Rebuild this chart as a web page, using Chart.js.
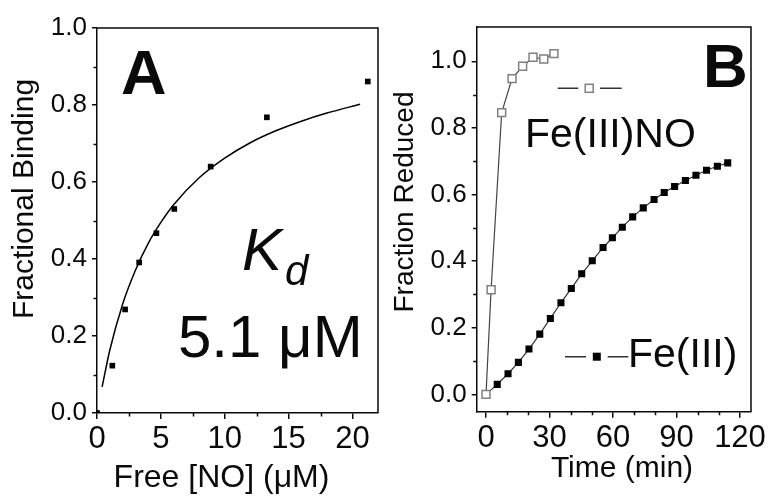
<!DOCTYPE html>
<html><head><meta charset="utf-8">
<script src="https://cdn.jsdelivr.net/npm/chart.js@4"></script>
<style>
html,body{margin:0;padding:0;background:#fff;}
#wrap{position:relative;width:773px;height:497px;overflow:hidden;background:#fff;}
#ca{position:absolute;left:0;top:0;}
#cb{position:absolute;left:385px;top:0;}
</style></head><body>
<div id="wrap"><canvas id="ca" width="385" height="497"></canvas><canvas id="cb" width="388" height="497"></canvas></div>
<script>
// ---------- Panel A data ----------
const A_FREE_NO = [0, 1.2, 2.2, 3.3, 4.65, 6.05, 8.9, 13.3, 21.2];
const A_BINDING = [0, 0.123, 0.269, 0.391, 0.467, 0.53, 0.64, 0.768, 0.861];
const A_FIT_X = [0.4, 1, 2, 3, 4, 5, 6, 8, 10, 12, 14, 16, 18, 20.6];
const A_FIT_Y = [0.068, 0.163, 0.282, 0.370, 0.440, 0.495, 0.541, 0.611, 0.662, 0.702, 0.733, 0.758, 0.779, 0.802];
const A_X_TICKS = [0, 5, 10, 15, 20];
const A_X_LABELS = ['0', '5', '10', '15', '20'];
const A_X_MINOR = [2.5, 7.5, 12.5, 17.5];
const A_Y_TICKS = [0, 0.2, 0.4, 0.6, 0.8, 1.0];
const A_Y_LABELS = ['0.0', '0.2', '0.4', '0.6', '0.8', '1.0'];
const A_Y_MINOR = [0.1, 0.3, 0.5, 0.7, 0.9];
const A_X_TITLE = 'Free [NO] (μM)';
const A_Y_TITLE = 'Fractional Binding';

// ---------- Panel B data ----------
const B_NO_TIME = [0, 2.4, 7.4, 12.3, 17.3, 22.2, 27.3, 32.1];
const B_NO_FRAC = [0, 0.314, 0.846, 0.948, 0.985, 1.012, 1.007, 1.023];
const B_FE_TIME = [0, 5.3, 10.4, 15.3, 20.3, 25.4, 30.4, 35.4, 40.3, 45.2, 50.2, 55.3, 59.7, 64.4, 69.3, 74.3, 79.4, 84.2, 89.1, 94.2, 99.2, 104.2, 109.3, 114.2];
const B_FE_FRAC = [0, 0.03, 0.062, 0.096, 0.136, 0.181, 0.228, 0.275, 0.318, 0.362, 0.401, 0.441, 0.47, 0.502, 0.533, 0.56, 0.585, 0.606, 0.624, 0.642, 0.658, 0.673, 0.685, 0.695];
const B_X_TICKS = [0, 30, 60, 90, 120];
const B_X_LABELS = ['0', '30', '60', '90', '120'];
const B_X_MINOR = [10, 20, 40, 50, 70, 80, 100, 110];
const B_Y_TICKS = [0, 0.2, 0.4, 0.6, 0.8, 1.0];
const B_Y_LABELS = ['0.0', '0.2', '0.4', '0.6', '0.8', '1.0'];
const B_Y_MINOR = [0.1, 0.3, 0.5, 0.7, 0.9];
const B_X_TITLE = 'Time (min)';
const B_Y_TITLE = 'Fraction Reduced';
const B_SERIES = ['Fe(III)NO', 'Fe(III)'];

const FONT = "'Liberation Sans', Arial, Helvetica, sans-serif";
const INK = '#0a0a0a';

function fixTicks(values) { return s => { s.ticks = values.map(v => ({ value: v })); }; }
function pts(xs, ys) { return xs.map((x, i) => ({ x, y: ys[i] })); }

function axis(opts) {
  return Object.assign({
    type: 'linear',
    grid: { drawOnChartArea: false, drawTicks: true, tickLength: 5, color: INK, lineWidth: 1.5 },
    border: { display: true, color: INK, width: 1.5 },
  }, opts);
}

function frameAndMinor(chart, xMinor, yMinor) {
  const { ctx, chartArea: a, scales: { x, y } } = chart;
  ctx.save();
  ctx.strokeStyle = INK; ctx.lineWidth = 1.5;
  ctx.beginPath();
  ctx.moveTo(a.left, a.top); ctx.lineTo(a.right, a.top); ctx.lineTo(a.right, a.bottom);
  ctx.stroke();
  ctx.beginPath();
  xMinor.forEach(v => { const p = Math.round(x.getPixelForValue(v)) + 0.5; ctx.moveTo(p, a.bottom); ctx.lineTo(p, a.bottom + 3.5); });
  yMinor.forEach(v => { const p = Math.round(y.getPixelForValue(v)) + 0.5; ctx.moveTo(a.left, p); ctx.lineTo(a.left - 3.5, p); });
  ctx.stroke();
  ctx.restore();
}

const decorA = {
  id: 'decorA',
  afterDraw(chart) {
    frameAndMinor(chart, A_X_MINOR, A_Y_MINOR);
    const ctx = chart.ctx;
    ctx.save();
    ctx.fillStyle = INK; ctx.textBaseline = 'alphabetic';
    ctx.font = `32px ${FONT}`; ctx.textAlign = 'center';
    ctx.fillText(A_X_TITLE, 221.5, 486.5);
    ctx.font = `30px ${FONT}`;
    ctx.save(); ctx.translate(33, 199); ctx.rotate(-Math.PI / 2); ctx.fillText(A_Y_TITLE, 0, 0); ctx.restore();
    ctx.textAlign = 'left';
    ctx.font = `bold 63px ${FONT}`; ctx.fillText('A', 121, 94);
    ctx.font = `italic 60px ${FONT}`; ctx.fillText('K', 242, 270);
    ctx.font = `italic 42px ${FONT}`; ctx.fillText('d', 285, 285);
    ctx.font = `60px ${FONT}`; ctx.fillText('5.1 μM', 178, 357);
    ctx.restore();
  }
};

function legendSymbol(ctx, x0, x1, gapL, gapR, y, cx, side, fill, stroke) {
  ctx.strokeStyle = '#333'; ctx.lineWidth = 1.5;
  ctx.beginPath(); ctx.moveTo(x0, y); ctx.lineTo(gapL, y); ctx.moveTo(gapR, y); ctx.lineTo(x1, y); ctx.stroke();
  ctx.fillStyle = fill; ctx.fillRect(cx - side / 2, y - side / 2, side, side);
  if (stroke) { ctx.strokeStyle = stroke; ctx.lineWidth = 1.5; ctx.strokeRect(cx - side / 2, y - side / 2, side, side); }
}

const decorB = {
  id: 'decorB',
  afterDraw(chart) {
    frameAndMinor(chart, B_X_MINOR, B_Y_MINOR);
    const ctx = chart.ctx;
    ctx.save();
    ctx.fillStyle = INK; ctx.textBaseline = 'alphabetic';
    ctx.font = `30px ${FONT}`; ctx.textAlign = 'center';
    ctx.fillText(B_X_TITLE, 237, 476.5);
    ctx.font = `28px ${FONT}`;
    ctx.save(); ctx.translate(28.3, 202); ctx.rotate(-Math.PI / 2); ctx.fillText(B_Y_TITLE, 0, 0); ctx.restore();
    ctx.textAlign = 'left';
    ctx.font = `bold 62px ${FONT}`; ctx.fillText('B', 318, 87);
    // legend entries
    legendSymbol(ctx, 172.7, 236.7, 193.3, 215, 88.3, 204.2, 8, '#fff', '#808080');
    ctx.fillStyle = INK; ctx.font = `41px ${FONT}`;
    ctx.fillText(B_SERIES[0], 140, 146.5);
    legendSymbol(ctx, 180, 243.3, 201, 222.7, 356.7, 211.8, 8, '#000', null);
    ctx.fillStyle = INK; ctx.font = `41px ${FONT}`;
    ctx.fillText(B_SERIES[1], 243, 366.5);
    ctx.restore();
  }
};

new Chart(document.getElementById('ca'), {
  type: 'scatter',
  data: {
    datasets: [
      { label: 'Fractional binding', data: pts(A_FREE_NO, A_BINDING), showLine: false, pointStyle: 'rect',
        pointRadius: 4, pointBackgroundColor: '#000', pointBorderWidth: 0, clip: 0 },
      { label: 'Fit', data: pts(A_FIT_X, A_FIT_Y), showLine: true, borderColor: '#000', borderWidth: 1.5,
        pointRadius: 0, cubicInterpolationMode: 'monotone', fill: false }
    ]
  },
  options: {
    responsive: false, animation: false, devicePixelRatio: 1,
    layout: { padding: { left: 0, top: 28, right: 7, bottom: 0 } },
    plugins: { legend: { display: false }, tooltip: { enabled: false } },
    scales: {
      x: axis({ min: 0, max: 22, afterBuildTicks: fixTicks(A_X_TICKS), afterFit(s) { s.height = 84; },
        grid: { drawOnChartArea: false, drawTicks: true, tickLength: 6, color: INK, lineWidth: 1.5 },
        ticks: { font: { family: FONT, size: 31, lineHeight: 1 }, color: INK, padding: 5, maxRotation: 0, autoSkip: false,
          callback: (v, i) => A_X_LABELS[i] } }),
      y: axis({ min: 0, max: 1, afterBuildTicks: fixTicks(A_Y_TICKS), afterFit(s) { s.width = 97; },
        ticks: { font: { family: FONT, size: 26, lineHeight: 1 }, color: INK, padding: 5, autoSkip: false,
          callback: (v, i) => A_Y_LABELS[i] } })
    }
  },
  plugins: [decorA]
});

new Chart(document.getElementById('cb'), {
  type: 'scatter',
  data: {
    datasets: [
      { label: B_SERIES[0], data: pts(B_NO_TIME, B_NO_FRAC), showLine: true, borderColor: '#444', borderWidth: 1.2,
        pointStyle: 'rect', pointRadius: 5.6, pointBackgroundColor: '#fff', pointBorderColor: '#808080', pointBorderWidth: 1.5 },
      { label: B_SERIES[1], data: pts(B_FE_TIME, B_FE_FRAC), showLine: true, borderColor: '#333', borderWidth: 1.2,
        pointStyle: 'rect', pointRadius: 5, pointBackgroundColor: '#000', pointBorderWidth: 0 }
    ]
  },
  options: {
    responsive: false, animation: false, devicePixelRatio: 1,
    layout: { padding: { left: 0, top: 27, right: 22, bottom: 0 } },
    plugins: { legend: { display: false }, tooltip: { enabled: false } },
    scales: {
      x: axis({ min: -4.4, max: 125.2, afterBuildTicks: fixTicks(B_X_TICKS), afterFit(s) { s.height = 85.3; },
        grid: { drawOnChartArea: false, drawTicks: true, tickLength: 6, color: INK, lineWidth: 1.5 },
        ticks: { font: { family: FONT, size: 31, lineHeight: 1 }, color: INK, padding: 5, maxRotation: 0, autoSkip: false,
          callback: (v, i) => B_X_LABELS[i] } }),
      y: axis({ min: -0.052, max: 1.103, afterBuildTicks: fixTicks(B_Y_TICKS), afterFit(s) { s.width = 91.7; },
        ticks: { font: { family: FONT, size: 26, lineHeight: 1 }, color: INK, padding: 5, autoSkip: false,
          callback: (v, i) => B_Y_LABELS[i] } })
    }
  },
  plugins: [decorB]
});
</script>
</body></html>
